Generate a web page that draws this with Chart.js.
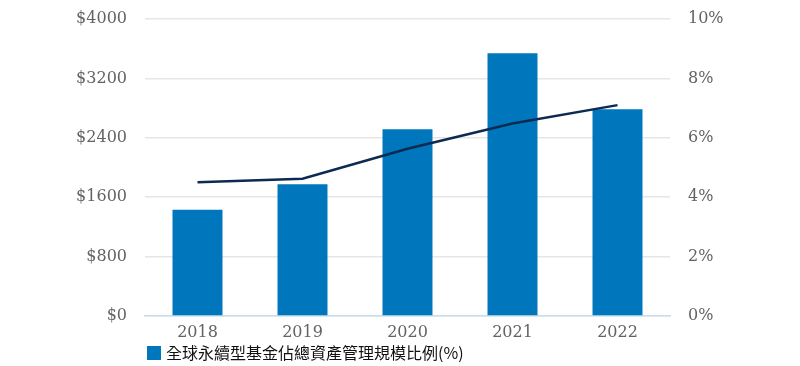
<!DOCTYPE html>
<html>
<head>
<meta charset="utf-8">
<script src="https://cdn.jsdelivr.net/npm/chart.js@4"></script>
<style>
  html, body { margin: 0; padding: 0; background: #fff; }
  #wrap { position: relative; width: 800px; height: 366px; }
  #legend {
    position: absolute; left: 147px; top: 343px;
    font-family: "Noto Sans CJK TC", "Noto Sans", sans-serif;
    font-size: 16px; color: #111; line-height: 19px;
    display: flex; align-items: center;
  }
  #legend span.box { display: inline-block; width: 14px; height: 14px; background: #0077bd; margin-right: 5px; }
</style>
</head>
<body>
<div id="wrap">
  <canvas id="chart" width="800" height="366"></canvas>
  <div id="legend"><span class="box"></span><span>全球永續型基金佔總資產管理規模比例(%)</span></div>
</div>
<script>
// data
const years = ['2018', '2019', '2020', '2021', '2022'];
const aumValues = [1430, 1775, 2515, 3540, 2785];   // bars, $ (left axis)
const sharePct = [4.5, 4.62, 5.63, 6.48, 7.1];      // line, % (right axis)
const leftTicks = [0, 800, 1600, 2400, 3200, 4000];
const rightTicks = [0, 2, 4, 6, 8, 10];

const tickFont = { family: 'DejaVu Serif', size: 16 };
const tickColor = '#636363';

// fixed axis sizes so the plot lands where the original one is
const fixWidth = w => s => { s.width = w; s.paddingTop = 0; s.paddingBottom = 0; };

new Chart(document.getElementById('chart'), {
  data: {
    labels: years,
    datasets: [
      {
        type: 'line',
        data: sharePct,
        yAxisID: 'y1',
        borderColor: '#0c2a52',
        borderWidth: 2.5,
        pointRadius: 0,
        tension: 0,
        order: 0
      },
      {
        type: 'bar',
        data: aumValues,
        yAxisID: 'y',
        backgroundColor: '#0077bd',
        barPercentage: 0.476,
        categoryPercentage: 1,
        order: 1
      }
    ]
  },
  options: {
    responsive: false,
    animation: false,
    layout: { padding: { top: 19, left: 0, right: 0, bottom: 0 } },
    plugins: { legend: { display: false }, tooltip: { enabled: false } },
    scales: {
      x: {
        grid: { display: false, drawTicks: false },
        border: { color: '#c9dded', width: 1.5 },
        ticks: { font: tickFont, color: tickColor, padding: 7 },
        afterFit: s => { s.height = 50; s.paddingLeft = 0; s.paddingRight = 0; }
      },
      y: {
        position: 'left',
        min: 0, max: 4000,
        afterBuildTicks: s => { s.ticks = leftTicks.map(v => ({ value: v })); },
        grid: { color: '#e6e6e6', lineWidth: 1.5, drawTicks: false },
        border: { display: false },
        ticks: { font: tickFont, color: tickColor, padding: 18, callback: v => '$' + v },
        afterFit: fixWidth(145)
      },
      y1: {
        position: 'right',
        min: 0, max: 10,
        afterBuildTicks: s => { s.ticks = rightTicks.map(v => ({ value: v })); },
        grid: { display: false, drawTicks: false },
        border: { display: false },
        ticks: { font: tickFont, color: tickColor, padding: 18, callback: v => v + '%' },
        afterFit: fixWidth(130)
      }
    }
  }
});
</script>
</body>
</html>
